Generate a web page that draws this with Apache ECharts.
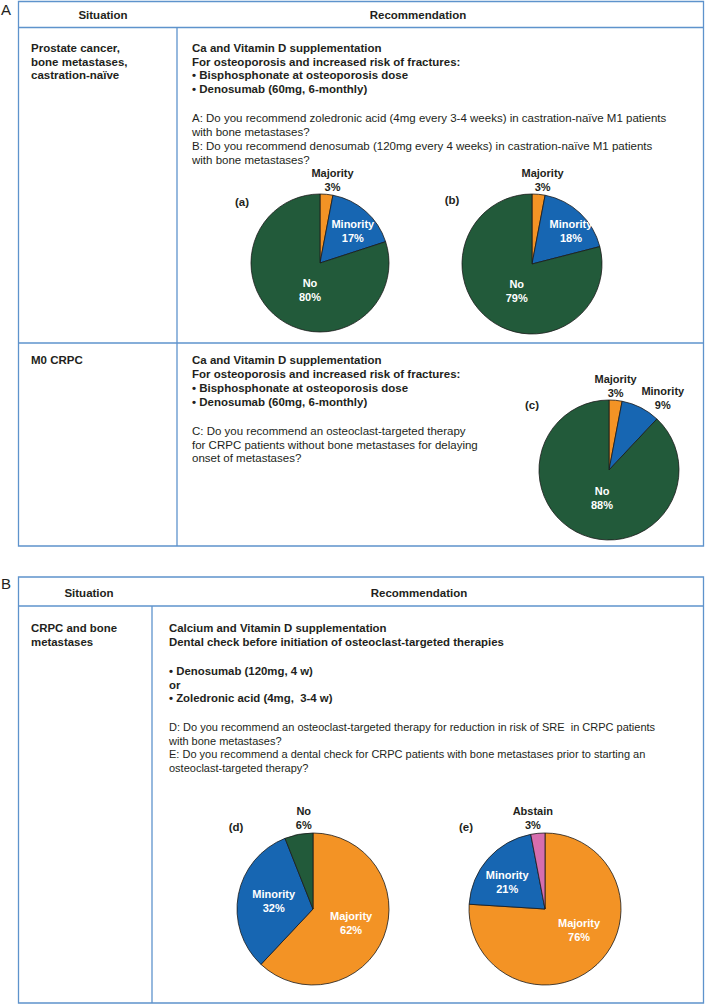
<!DOCTYPE html>
<html>
<head>
<meta charset="utf-8">
<script src="https://cdn.jsdelivr.net/npm/echarts@6/dist/echarts.min.js"></script>
<style>
html,body{margin:0;padding:0;background:#fff;}
#chart{width:705px;height:1005px;}
</style>
</head>
<body>
<div id="chart"></div>
<script>
// ---------- DATA ----------
const namesABC = ['Majority', 'Minority', 'No'];
const valuesA = [3, 17, 80];
const valuesB = [3, 18, 79];
const valuesC = [3, 9, 88];
const namesD = ['Majority', 'Minority', 'No'];
const valuesD = [62, 32, 6];
const namesE = ['Majority', 'Minority', 'Abstain'];
const valuesE = [76, 21, 3];
const pieTags = ['(a)', '(b)', '(c)', '(d)', '(e)'];

const panelLetters = ['A', 'B'];
const headerTexts = ['Situation', 'Recommendation'];
const situationA1 = ['Prostate cancer,', 'bone metastases,', 'castration-naïve'];
const recA1Bold = ['Ca and Vitamin D supplementation', 'For osteoporosis and increased risk of fractures:', '• Bisphosphonate at osteoporosis dose', '• Denosumab (60mg, 6-monthly)'];
const recA1Questions = ['A: Do you recommend zoledronic acid (4mg every 3-4 weeks) in castration-naïve M1 patients', 'with bone metastases?', 'B: Do you recommend denosumab (120mg every 4 weeks) in castration-naïve M1 patients', 'with bone metastases?'];
const situationA2 = ['M0 CRPC'];
const recA2Bold = ['Ca and Vitamin D supplementation', 'For osteoporosis and increased risk of fractures:', '• Bisphosphonate at osteoporosis dose', '• Denosumab (60mg, 6-monthly)'];
const recA2Questions = ['C: Do you recommend an osteoclast-targeted therapy', 'for CRPC patients without bone metastases for delaying', 'onset of metastases?'];
const situationB = ['CRPC and bone', 'metastases'];
const recBBold1 = ['Calcium and Vitamin D supplementation', 'Dental check before initiation of osteoclast-targeted therapies'];
const recBBold2 = ['• Denosumab (120mg, 4 w)', 'or', '• Zoledronic acid (4mg,  3-4 w)'];
const recBQuestions = ['D: Do you recommend an osteoclast-targeted therapy for reduction in risk of SRE  in CRPC patients', 'with bone metastases?', 'E: Do you recommend a dental check for CRPC patients with bone metastases prior to starting an', 'osteoclast-targeted therapy?'];

// ---------- STYLE ----------
const FONT = '"Liberation Sans", Arial, Helvetica, sans-serif';
const TXT = '#231F20';
const LINE = '#5E93CC';
const COLORS = { Majority: '#F39325', Minority: '#1766B2', No: '#225A3A', Abstain: '#D66EAE' };

// pie layout: center, radius, tag position, outside-labelled slices, label nudges
const pieLayouts = [
  { center: [320, 263], r: 69, tag: [242, 202], outside: ['Majority'], nudge: [[6, 0], [8, -4], [12, -3]] },
  { center: [532, 264], r: 70, tag: [452, 200], outside: ['Majority'], nudge: [[4, 0], [13, -5], [8, -3]] },
  { center: [609, 470], r: 70, tag: [532, 405], outside: ['Majority', 'Minority'], nudge: [[0, 0], [22, 4], [7, -7]] },
  { center: [313, 909], r: 76, tag: [236, 827], outside: ['No'], nudge: [[0, -1], [1, 0], [5, -2]] },
  { center: [545, 909], r: 76, tag: [466, 827], outside: ['Abstain'], nudge: [[6, -9], [-7, 0], [-5, -1]] }
];
const pieData = [
  [namesABC, valuesA], [namesABC, valuesB], [namesABC, valuesC], [namesD, valuesD], [namesE, valuesE]
];

// ---------- GRAPHIC (table) ----------
const g = [];
function line(x1, y1, x2, y2) {
  g.push({ type: 'line', silent: true, shape: { x1, y1, x2, y2 }, style: { stroke: LINE, lineWidth: 1.3 } });
}
function rect(x, y, w, h) {
  g.push({ type: 'rect', silent: true, shape: { x, y, width: w, height: h }, style: { fill: 'none', stroke: LINE, lineWidth: 1.3 } });
}
function text(str, x, y, opts) {
  opts = opts || {};
  g.push({ type: 'text', silent: true, x: x, y: y, style: {
    text: str, fill: opts.fill || TXT,
    font: (opts.bold ? 'bold ' : '') + (opts.size || 11) + 'px ' + FONT,
    align: opts.align || 'left', verticalAlign: 'middle'
  }});
}
function lines(arr, x, y0, step, opts) {
  arr.forEach((s, i) => text(s, x, y0 + i * step, opts));
}

// Table A
rect(18.5, 1.5, 685, 544.5);
line(18.5, 27.5, 703.5, 27.5);
line(177, 27.5, 177, 546);
line(18.5, 343, 703.5, 343);
text(panelLetters[0], 1, 9, { size: 15 });
text(headerTexts[0], 103, 15, { bold: true, size: 11.5, align: 'center' });
text(headerTexts[1], 418, 15, { bold: true, size: 11.5, align: 'center' });
lines(situationA1, 31, 48, 13.5, { bold: true, size: 11.5 });
lines(recA1Bold, 192, 48, 13.5, { bold: true, size: 11.5 });
lines(recA1Questions, 192, 117.5, 14, { size: 11.5 });
lines(situationA2, 31, 360, 14, { bold: true, size: 11.5 });
lines(recA2Bold, 192, 360, 14, { bold: true, size: 11.5 });
lines(recA2Questions, 192, 431, 13.5, { size: 11.5 });

// Table B
rect(18.5, 577, 685, 426);
line(18.5, 606, 703.5, 606);
line(152, 606, 152, 1003);
text(panelLetters[1], 1, 583, { size: 15 });
text(headerTexts[0], 89, 593, { bold: true, size: 11.5, align: 'center' });
text(headerTexts[1], 419, 593, { bold: true, size: 11.5, align: 'center' });
lines(situationB, 31, 628, 14, { bold: true, size: 11.4 });
lines(recBBold1, 169, 628, 14, { bold: true, size: 11.4 });
lines(recBBold2, 169, 671, 13.5, { bold: true, size: 11.4 });
lines(recBQuestions, 169, 727, 13.7, { size: 11 });

// pie tags
pieLayouts.forEach((p, i) => text(pieTags[i], p.tag[0], p.tag[1], { bold: true, size: 11.5, align: 'center' }));

// ---------- SERIES ----------
const series = pieData.map(([names, vals], si) => {
  const lay = pieLayouts[si];
  return {
    type: 'pie',
    center: lay.center,
    radius: lay.r,
    startAngle: 90,
    clockwise: true,
    avoidLabelOverlap: false,
    animation: false,
    emphasis: { disabled: true },
    labelLine: { show: false, length: 0, length2: 0 },
    itemStyle: { borderColor: '#1b1b1b', borderWidth: 0.8 },
    label: {
      formatter: '{b}\n{c}%',
      fontFamily: FONT, fontWeight: 'bold', fontSize: 11, lineHeight: 14,
      distanceToLabelLine: 0
    },
    labelLayout: function (params) {
      const n = lay.nudge[params.dataIndex];
      const out = { dx: n[0], dy: n[1] };
      if (lay.outside.indexOf(names[params.dataIndex]) >= 0) {
        out.align = 'center';
        out.verticalAlign = 'bottom';
      }
      return out;
    },
    data: names.map((nm, k) => {
      const isOut = lay.outside.indexOf(nm) >= 0;
      return {
        name: nm, value: vals[k],
        itemStyle: { color: COLORS[nm] },
        label: isOut ? { position: 'outside', color: TXT } : { position: 'inside', color: '#ffffff' }
      };
    })
  };
});

const chart = echarts.init(document.getElementById('chart'), null, { renderer: 'svg', width: 705, height: 1005 });
chart.setOption({
  animation: false,
  backgroundColor: '#ffffff',
  graphic: { elements: g },
  series: series
});
</script>
</body>
</html>
